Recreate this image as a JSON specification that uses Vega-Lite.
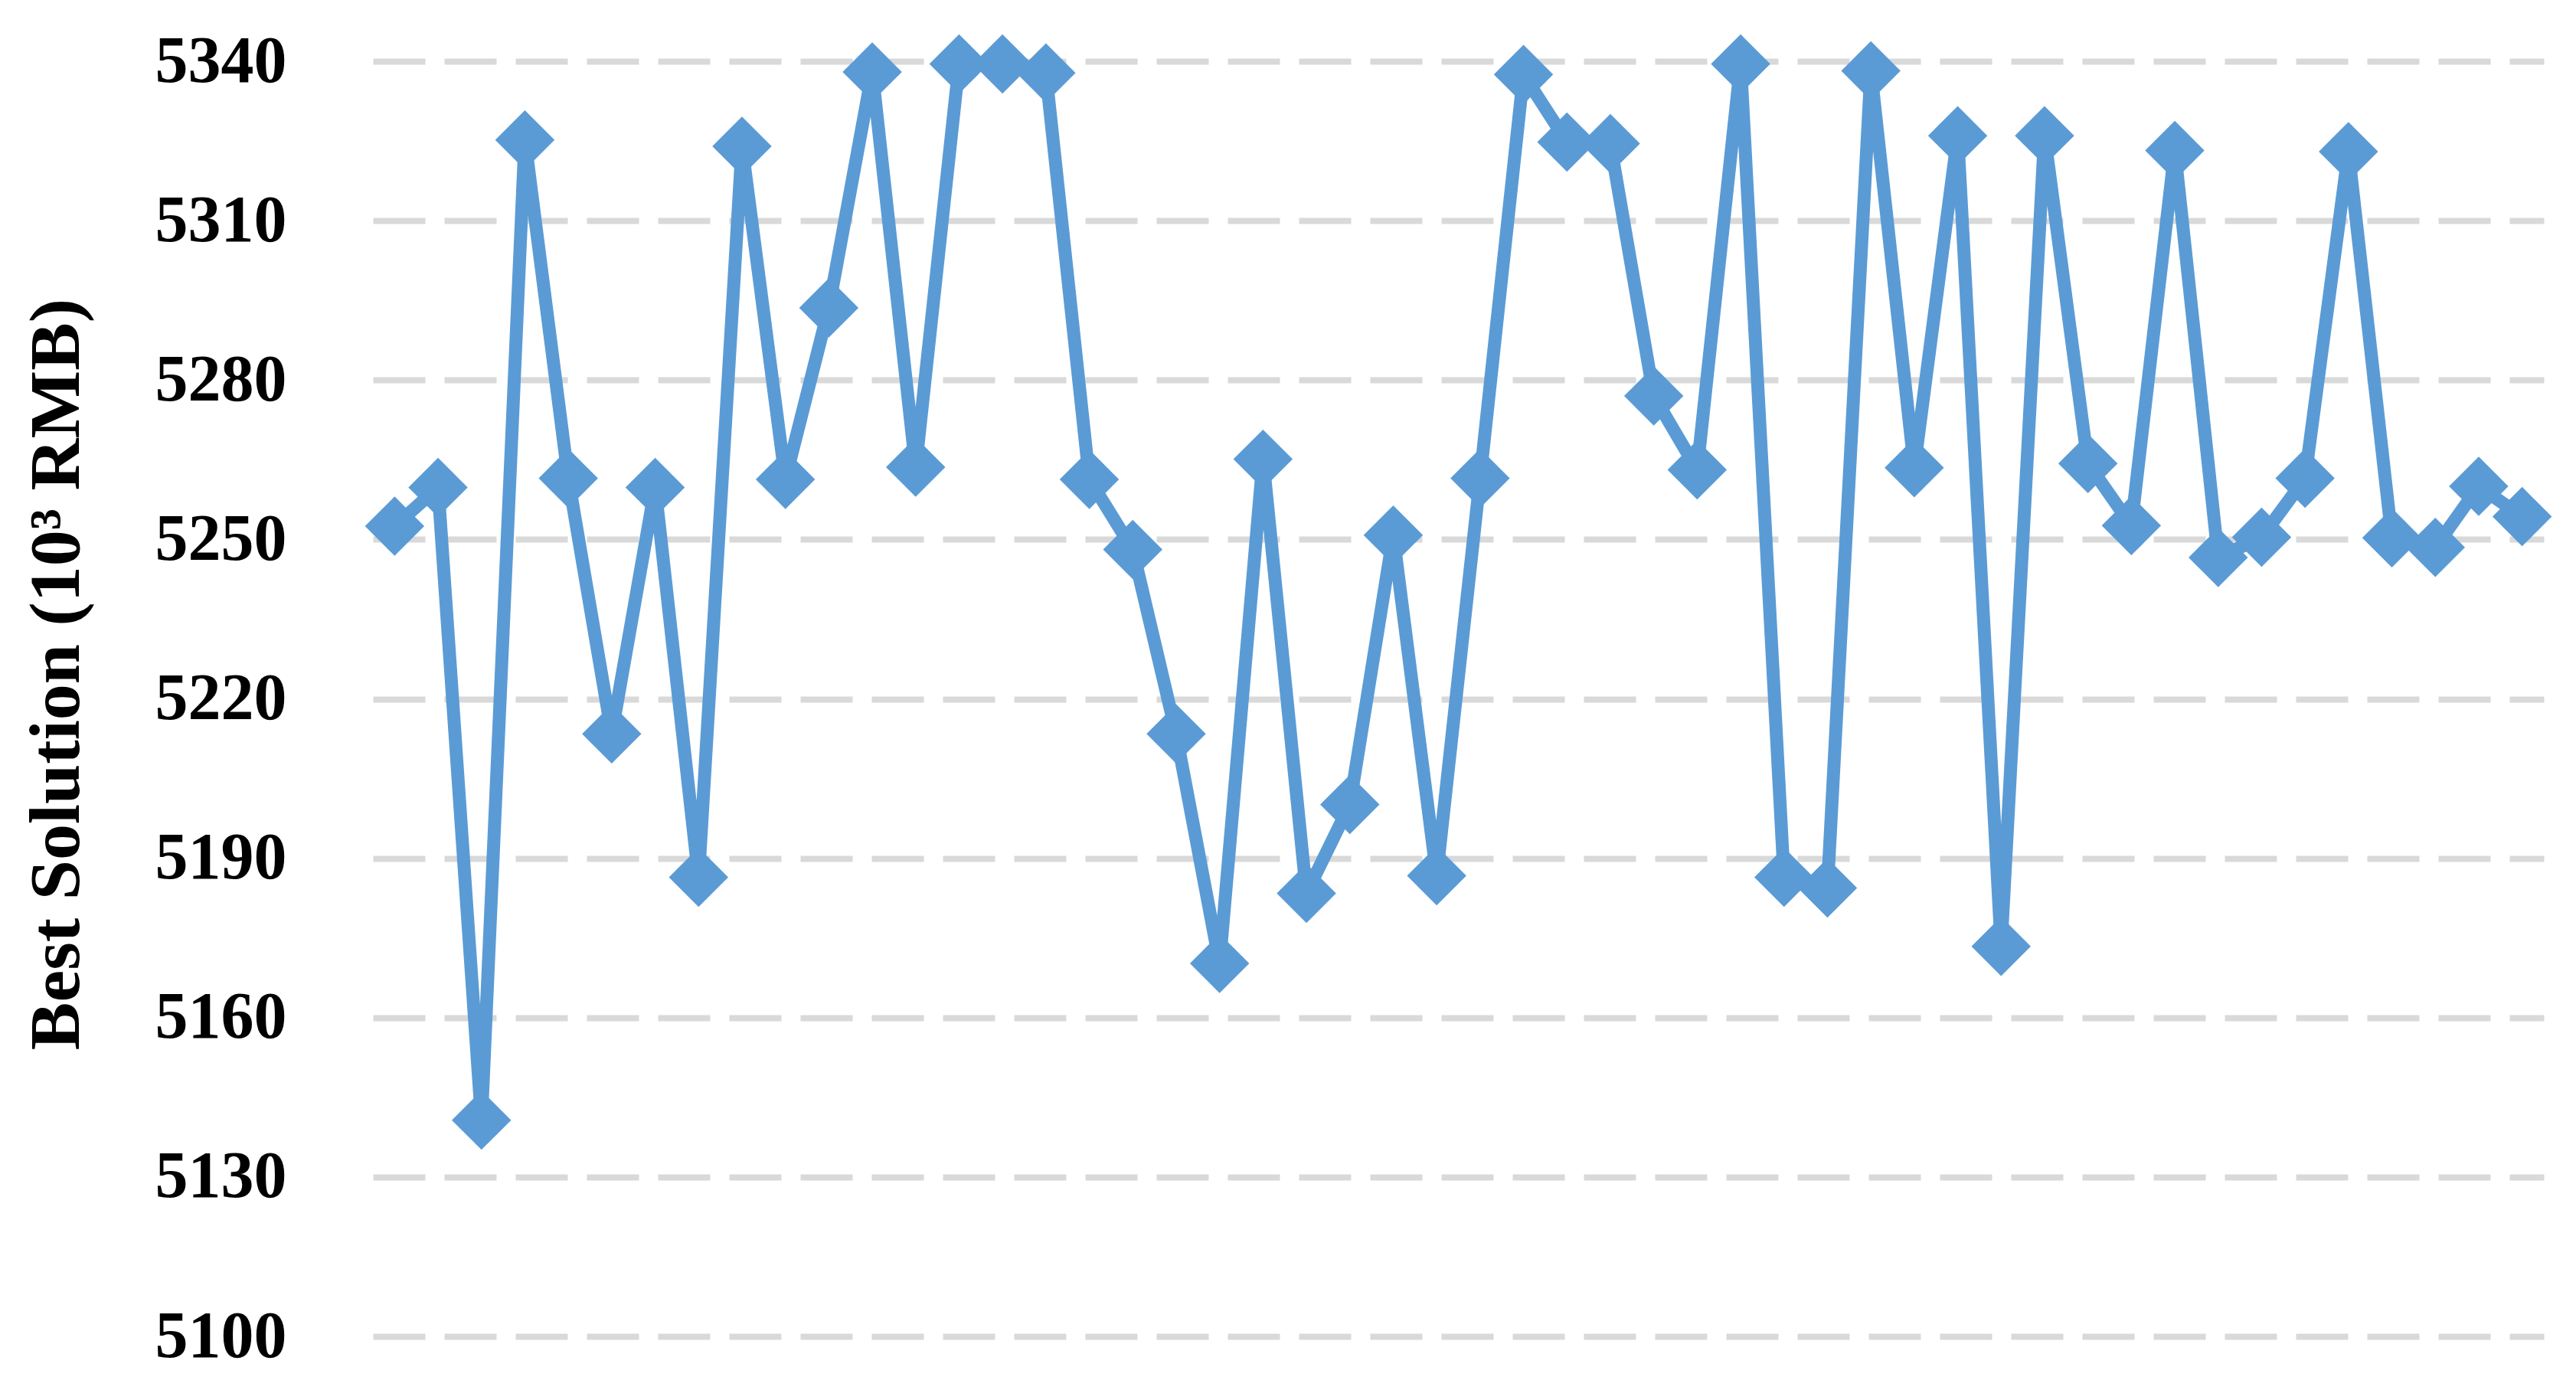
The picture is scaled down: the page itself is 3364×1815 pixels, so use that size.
{
  "$schema": "https://vega.github.io/schema/vega-lite/v6.json",
  "width": 2835,
  "height": 1665,
  "autosize": {"type": "none"},
  "padding": {"left": 487, "top": 80, "right": 42, "bottom": 70},
  "background": "white",
  "config": {"view": {"stroke": null}},
  "data": {
    "values": [
      {"run": 1, "cost": 5252.5},
      {"run": 2, "cost": 5259.8},
      {"run": 3, "cost": 5140.7},
      {"run": 4, "cost": 5325.2},
      {"run": 5, "cost": 5261.5},
      {"run": 6, "cost": 5213.4},
      {"run": 7, "cost": 5259.8},
      {"run": 8, "cost": 5186.4},
      {"run": 9, "cost": 5324.0},
      {"run": 10, "cost": 5261.3},
      {"run": 11, "cost": 5293.6},
      {"run": 12, "cost": 5338.0},
      {"run": 13, "cost": 5263.6},
      {"run": 14, "cost": 5339.5},
      {"run": 15, "cost": 5339.5},
      {"run": 16, "cost": 5337.8},
      {"run": 17, "cost": 5261.3},
      {"run": 18, "cost": 5248.1},
      {"run": 19, "cost": 5213.4},
      {"run": 20, "cost": 5170.2},
      {"run": 21, "cost": 5265.1},
      {"run": 22, "cost": 5183.4},
      {"run": 23, "cost": 5200.1},
      {"run": 24, "cost": 5250.8},
      {"run": 25, "cost": 5186.7},
      {"run": 26, "cost": 5261.5},
      {"run": 27, "cost": 5337.5},
      {"run": 28, "cost": 5324.8},
      {"run": 29, "cost": 5324.5},
      {"run": 30, "cost": 5277.0},
      {"run": 31, "cost": 5263.1},
      {"run": 32, "cost": 5339.5},
      {"run": 33, "cost": 5186.4},
      {"run": 34, "cost": 5184.4},
      {"run": 35, "cost": 5338.2},
      {"run": 36, "cost": 5263.5},
      {"run": 37, "cost": 5326.0},
      {"run": 38, "cost": 5173.4},
      {"run": 39, "cost": 5326.0},
      {"run": 40, "cost": 5264.3},
      {"run": 41, "cost": 5252.6},
      {"run": 42, "cost": 5323.2},
      {"run": 43, "cost": 5246.6},
      {"run": 44, "cost": 5250.4},
      {"run": 45, "cost": 5261.5},
      {"run": 46, "cost": 5323.0},
      {"run": 47, "cost": 5250.3},
      {"run": 48, "cost": 5248.5},
      {"run": 49, "cost": 5260.0},
      {"run": 50, "cost": 5254.3}
    ]
  },
  "encoding": {
    "x": {"field": "run", "type": "quantitative", "scale": {"domain": [0.5, 50.5], "nice": false, "zero": false}, "axis": null},
    "y": {
      "field": "cost",
      "type": "quantitative",
      "scale": {"domain": [5100, 5340], "nice": false, "zero": false},
      "axis": {
        "title": "Best Solution (10³ RMB)",
        "values": [5100, 5130, 5160, 5190, 5220, 5250, 5280, 5310, 5340],
        "format": "d",
        "labelLimit": 0,
        "domain": false,
        "ticks": false,
        "grid": true,
        "gridColor": "#D9D9D9",
        "gridWidth": 8,
        "gridDash": [68, 25],
        "labelFont": "Liberation Serif",
        "labelFontWeight": "bold",
        "labelFontSize": 86,
        "labelColor": "#000000",
        "labelPadding": 113,
        "labelBaseline": "middle",
        "titleFont": "Liberation Serif",
        "titleFontWeight": "bold",
        "titleFontSize": 94,
        "titleColor": "#000000",
        "titlePadding": 165,
        "titleY": 800
      }
    }
  },
  "layer": [
    {"mark": {"type": "line", "color": "#5B9BD5", "strokeWidth": 17, "strokeJoin": "miter"}},
    {"mark": {"type": "point", "shape": "diamond", "filled": true, "color": "#5B9BD5", "size": 6000, "opacity": 1}}
  ]
}
